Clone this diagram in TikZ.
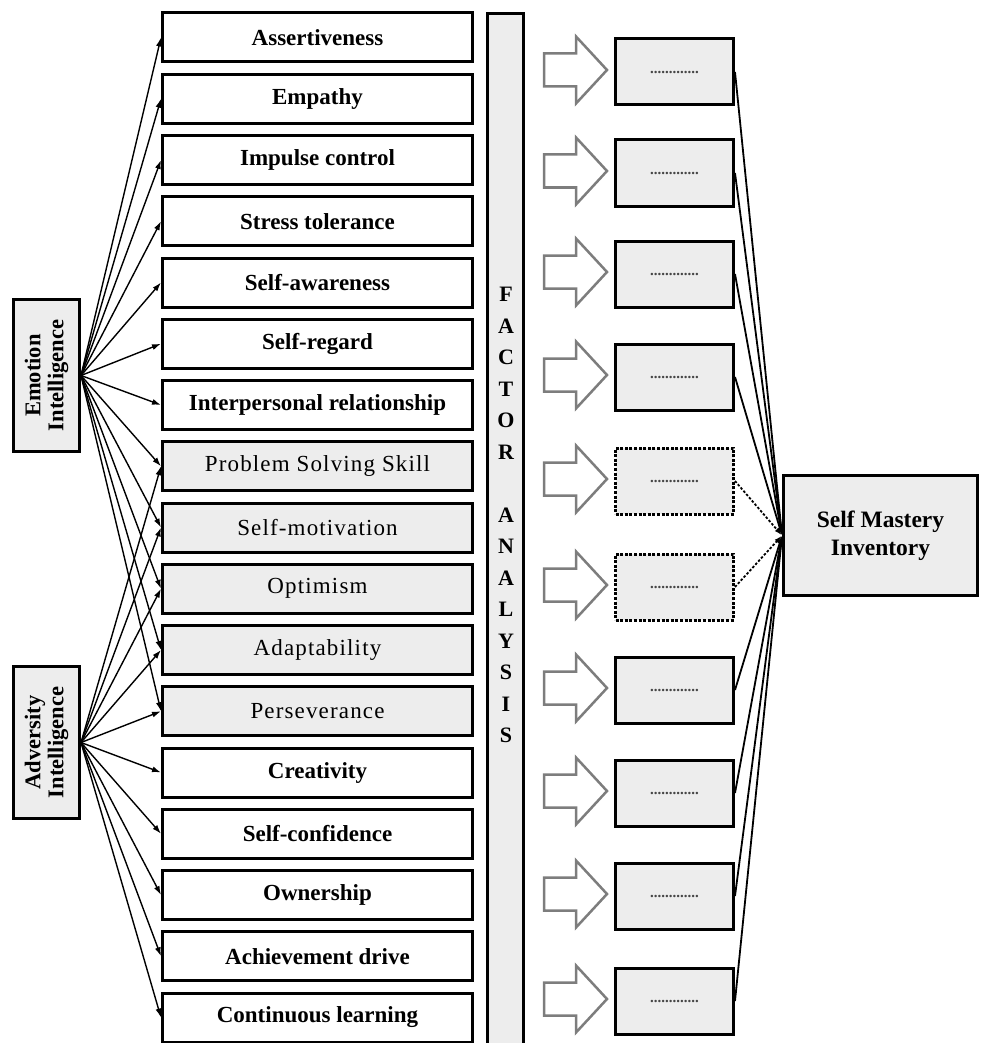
\documentclass[tikz,border=0pt]{standalone}
\usepackage{fontspec}
\setmainfont{Liberation Serif}
\usetikzlibrary{arrows.meta}
\definecolor{boxgray}{RGB}{237,237,237}
\definecolor{arrowgray}{RGB}{125,125,125}
\definecolor{dotgray}{RGB}{70,70,70}
\begin{document}
\begin{tikzpicture}[x=1pt,y=-1pt,
  lbox/.style={draw=black, line width=3pt, minimum width=310pt, minimum height=49pt, fill=white, inner sep=0pt, font=\fontsize{23}{25}\selectfont\bfseries},
  gbox/.style={lbox, fill=boxgray, font=\fontsize{23}{25}\selectfont\addfontfeature{LetterSpace=5}},
  srcbox/.style={draw=black, line width=3pt, fill=boxgray, rotate=90, minimum width=152pt, minimum height=66pt, inner sep=0pt, align=center, font=\fontsize{22.5}{23}\selectfont\bfseries},
  rbox/.style={draw=black, line width=3pt, fill=boxgray, minimum width=118pt, minimum height=66pt, inner sep=0pt, font=\fontsize{15}{15}\selectfont\bfseries, text=dotgray},
  dbox/.style={rbox, dash pattern=on 3pt off 1.6pt},
  link/.style={line width=1.4pt, -{Latex[length=9pt,width=6pt]}},
  rlink/.style={line width=1.8pt, -{Latex[length=8pt,width=5pt]}},
  dlink/.style={rlink, dash pattern=on 2.5pt off 1.8pt},
  blockarrow/.style={draw=arrowgray, line width=2.5pt, fill=white, line join=miter},
  fbar/.style={draw=black, line width=3pt, fill=boxgray, minimum width=36pt, minimum height=1045pt, inner sep=0pt},
  smibox/.style={draw=black, line width=3pt, fill=boxgray, minimum width=194pt, minimum height=120pt, inner sep=0pt, align=center, font=\fontsize{23.5}{28}\selectfont\bfseries}
]
\useasboundingbox (0,0) rectangle (981,1043);

% source boxes
\node[srcbox] (ei) at (46.5,375.5) {Emotion\\Intelligence};
\node[srcbox] (ai) at (46.5,742.5) {Adversity\\Intelligence};

% left boxes
\node[lbox] (b1)  at (317.5,37.5)   {Assertiveness};
\node[lbox] (b2)  at (317.5,98.75)  {Empathy};
\node[lbox] (b3)  at (317.5,160)    {Impulse control};
\node[lbox] (b4)  at (317.5,221.25) {Stress tolerance};
\node[lbox] (b5)  at (317.5,282.5)  {Self-awareness};
\node[lbox] (b6)  at (317.5,343.75) {Self-regard};
\node[lbox] (b7)  at (317.5,405)    {Interpersonal relationship};
\node[gbox] (b8)  at (317.5,466.25) {Problem Solving Skill};
\node[gbox] (b9)  at (317.5,527.5)  {Self-motivation};
\node[gbox] (b10) at (317.5,588.75) {Optimism};
\node[gbox] (b11) at (317.5,650)    {Adaptability};
\node[gbox] (b12) at (317.5,711.25) {Perseverance};
\node[lbox] (b13) at (317.5,772.5)  {Creativity};
\node[lbox] (b14) at (317.5,833.75) {Self-confidence};
\node[lbox] (b15) at (317.5,895)    {Ownership};
\node[lbox] (b16) at (317.5,956.25) {Achievement drive};
\node[lbox] (b17) at (317.5,1017.5) {Continuous learning};

% arrows from sources
\foreach \i in {1,...,12} \draw[link] (ei.south) -- (b\i.west);
\foreach \i in {8,...,17} \draw[link] (ai.south) -- (b\i.west);

% factor analysis bar
\node[fbar] (fa) at (505.5,536.5) {};
\node[align=center, inner sep=0pt, font=\fontsize{22}{31.5}\selectfont\bfseries] (fatext) at (506,515)
  {F\\A\\C\\T\\O\\R\\[31.5pt]A\\N\\A\\L\\Y\\S\\I\\S};

% right boxes and block arrows
\def\dots{.............}
\node[rbox] (r1)  at (674.5,72)   {\dots};
\node[rbox] (r2)  at (674.5,173)  {\dots};
\node[rbox] (r3)  at (674.5,274)  {\dots};
\node[rbox] (r4)  at (674.5,377)  {\dots};
\node[dbox] (r5)  at (674.5,481)  {\dots};
\node[dbox] (r6)  at (674.5,587)  {\dots};
\node[rbox] (r7)  at (674.5,690)  {\dots};
\node[rbox] (r8)  at (674.5,793)  {\dots};
\node[rbox] (r9)  at (674.5,896)  {\dots};
\node[rbox] (r10) at (674.5,1001) {\dots};

\foreach \c in {70,171,272,375,479,585,688,791,894,999}
  \draw[blockarrow] (544,\c-16.5) -- (576,\c-16.5) -- (576,\c-33.5) -- (607,\c)
     -- (576,\c+33.5) -- (576,\c+16.5) -- (544,\c+16.5) -- cycle;

% self mastery inventory
\node[smibox] (smi) at (880.5,535.5) {Self Mastery\\Inventory};

\foreach \i in {1,2,3,4,7,8,9,10} \draw[rlink] (r\i.east) -- (smi.west);
\foreach \i in {5,6} \draw[dlink] (r\i.east) -- (smi.west);
\end{tikzpicture}
\end{document}
